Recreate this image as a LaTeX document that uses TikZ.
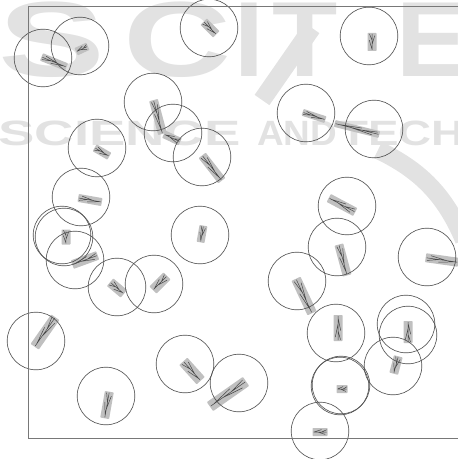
\documentclass[tikz,border=0pt]{standalone}
\usepackage{fontspec}
\setsansfont{Liberation Sans}
\definecolor{RingGray}{RGB}{80,80,80}
\definecolor{LeafGray}{RGB}{192,192,192}
\definecolor{VeinGray}{RGB}{70,70,70}
\definecolor{BorderGray}{RGB}{120,120,120}
\definecolor{MarkGray}{RGB}{226,226,226}

\begin{document}
\begin{tikzpicture}[x=0.025cm,y=-0.025cm,
      ring/.style={draw=RingGray,line width=0.45pt},
      leaf/.style={fill=LeafGray,rounded corners=0.5pt},
      vein/.style={draw=VeinGray,line width=0.35pt},
      border/.style={draw=BorderGray,line width=0.6pt},
      wmark/.style={text=MarkGray,inner sep=0pt,
                    font=\sffamily\bfseries\fontsize{76}{76}\selectfont},
      wsmall/.style={text=MarkGray,inner sep=0pt,anchor=base west,
                    font=\sffamily\bfseries\fontsize{25}{25}\selectfont},
      band/.style={draw=MarkGray,line width=0.45cm}]
  \useasboundingbox (0,0) rectangle (458,459);
  \clip (0,0) rectangle (458,459);
  % watermark
  \node[wmark,anchor=base,xscale=1.5] (wm-s) at (52,77) {S};
  \node[wmark,anchor=base,xscale=1.4] (wm-c) at (178,77) {C};
  \node[wmark,anchor=base] (wm-i) at (249,77) {I};
  \node[wmark,anchor=base] (wm-t) at (305,77) {T};
  \node[wmark,anchor=base] (wm-e) at (432,77) {E};
  \node[wsmall,xscale=1.55] (wm-science) at (-2,146) {SCIENCE};
  \node[wsmall,xscale=1.05] (wm-and) at (257,146) {AND};
  \node[wsmall,xscale=1.3] (wm-tech) at (340,146) {TECHNOLOGY};
  \draw[band] (262,100) -- (312,28);
  \draw[band] (378,150) .. controls (420,170) and (445,195) .. (464,240);
  % leaves: x/y/angle/length/width
  \foreach \x/\y/\a/\l/\w in {54/62/22/27/8, 82/49/155/13/8, 210/28/45/18/9,
      372/42/90/18/9, 158/117/75/35/9, 172/138/205/18/8, 212/168/52/32/9,
      314/116/18/24/7, 357/129/194/46/7, 102/152/30/17/8, 90/200/10/24/8,
      342/205/208/30/9, 66/237/90/15/9, 85/260/160/27/9, 117/288/40/18/10,
      160/283/135/20/10, 202/234/100/17/8, 343/260/75/32/9, 304/296/65/38/10,
      442/260/8/33/9, 338/328/-90/26/9, 408/332/-90/22/9, 396/365/105/18/9,
      342/389/180/11/8, 320/432/180/15/8, 45/332/125/36/10, 107/405/100/27/9,
      192/371/48/26/11, 228/394/145/44/11}{
    \begin{scope}[shift={(\x,\y)},rotate={-1*(\a)}]
      \fill[leaf] ({-\l/2},{-\w/2}) rectangle ({\l/2},{\w/2});
      \draw[vein] ({-\l/2+1},0) -- ({\l/2-1},0)
        ({0.4*\l},0) -- ({-0.1*\l},{0.3*\w})
        ({0.15*\l},0) -- ({-0.35*\l},{-0.3*\w})
        ({-0.1*\l},0) -- ({-0.45*\l},{0.28*\w});
    \end{scope}}
  % circles
  \foreach \x/\y in {43/58, 80/46, 209/28, 369/36, 153/102, 173/133, 202/157,
      97/148, 306/113, 374/129, 81/197, 347/206, 200/235, 62/235, 64/237,
      75/260, 117/287, 154/284, 337/247, 427/257, 297/281, 36/341, 336/333,
      406/324, 408/335, 393/366, 185/364, 239/383, 106/396, 340/386, 341/385,
      320/431}
    \draw[ring] (\x,\y) circle[radius=0.72cm];
  \draw[border] (458,6) -- (28,6) -- (28,438) -- (458,438);
\end{tikzpicture}
\end{document}
